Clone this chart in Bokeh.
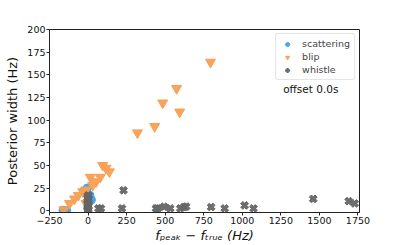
import numpy as np
from bokeh.plotting import figure
from bokeh.models import Range1d, FixedTicker, Legend, LegendItem, Label
from bokeh.embed import file_html
from bokeh.resources import INLINE

# scattering (blue circles)
scat_x = [-163, -138, -28, -5, 22, 12, -2]
scat_y = [0.5, 0.3, 22, 25, 12, 17, 3]

# blip (orange down-triangles)
blip_x = [-157, -120, -88, -63, -34, -13, -13, 15, 30, 52, 79, 95, 116, 138,
          320, 432, 484, 574, 594, 794]
blip_y = [1, 8, 13, 17, 21, 23, 8, 37, 28, 32, 37, 50, 47, 43,
          86, 93, 119, 135, 109, 164]

# whistle (grey X)
whis_x = [-3, 2, 0, -1, 3, 0, -2, 1, 0, 4, -4, 0, 1,
          67, 84, 220, 230, 440, 452, 493, 533, 598, 622, 636, 798, 886,
          1015, 1073, 1460, 1690, 1729]
whis_y = [0, 1, 2, 4, 5, 7, 8, 10, 11, 13, 14, 16, 17,
          2.5, 2.5, 2.5, 22.5, 2.5, 2.5, 4.4, 2.5, 2.5, 4, 4.5, 4, 2.5,
          5.8, 2.5, 13, 10.5, 8]

x_ticks = [-250, 0, 250, 500, 750, 1000, 1250, 1500, 1750]
y_ticks = [0, 25, 50, 75, 100, 125, 150, 175, 200]

p = figure(width=399, height=245, output_backend="svg", toolbar_location=None,
           x_range=Range1d(-250, 1760), y_range=Range1d(-2, 200),
           min_border_left=49, min_border_right=40, min_border_top=29, min_border_bottom=31)
p.xgrid.visible = False
p.ygrid.visible = False
p.outline_line_color = "#222222"
p.outline_line_width = 1

FONT = "DejaVu Sans"
for ax in (p.xaxis[0], p.yaxis[0]):
    ax.major_label_text_font = FONT
    ax.major_label_text_font_size = "9.5px"
    ax.major_label_text_color = "#111111"
    ax.minor_tick_line_color = None
    ax.major_tick_out = 3
    ax.major_tick_in = 0
    ax.major_label_standoff = 1
    ax.axis_line_color = "#222222"
    ax.major_tick_line_color = "#222222"
    ax.axis_label_text_font = FONT
    ax.axis_label_text_color = "#111111"

p.xaxis.ticker = FixedTicker(ticks=x_ticks)
p.yaxis.ticker = FixedTicker(ticks=y_ticks)
p.xaxis.major_label_overrides = {t: str(t).replace("-", "\u2212") for t in x_ticks}
p.yaxis.axis_label = "Posterior width (Hz)"
p.yaxis.axis_label_text_font_size = "13px"
p.yaxis.axis_label_text_font_style = "normal"
p.yaxis.axis_label_standoff = 4
p.xaxis.axis_label = "f\u209a\u2091\u2090\u2096 \u2212 f\u209c\u1d63\u1d64\u2091 (Hz)"
p.xaxis.axis_label_text_font_size = "13px"
p.xaxis.axis_label_text_font_style = "italic"
p.xaxis.axis_label_standoff = 1

r_s = p.scatter(scat_x, scat_y, marker="circle", size=8, fill_color="#3fa4f0",
                line_color="#3fa4f0", fill_alpha=0.95)
r_b = p.scatter(blip_x, blip_y, marker="inverted_triangle", size=10, fill_color="#f7a053",
                line_color="#f7a053", fill_alpha=0.95)
r_w = p.scatter(whis_x, whis_y, marker="plus", size=8, angle=np.pi / 4, fill_color="#666666",
                line_color="#666666", fill_alpha=0.95)

legend = Legend(items=[LegendItem(label="scattering", renderers=[r_s]),
                       LegendItem(label="blip", renderers=[r_b]),
                       LegendItem(label="whistle", renderers=[r_w])],
                location="top_right")
legend.label_text_font = FONT
legend.label_text_font_size = "9.5px"
legend.label_height = 10
legend.glyph_height = 10
legend.glyph_width = 14
legend.spacing = 2
legend.padding = 4
legend.margin = 4
legend.label_standoff = 8
legend.border_line_color = "#cccccc"
legend.border_radius = 3
legend.background_fill_alpha = 0.8
p.add_layout(legend)

p.add_layout(Label(x=1265, y=134, text="offset 0.0s", text_font=FONT,
                   text_font_size="10.5px", text_baseline="middle", text_color="#111111"))

open("out.html", "w").write(file_html(p, INLINE))
